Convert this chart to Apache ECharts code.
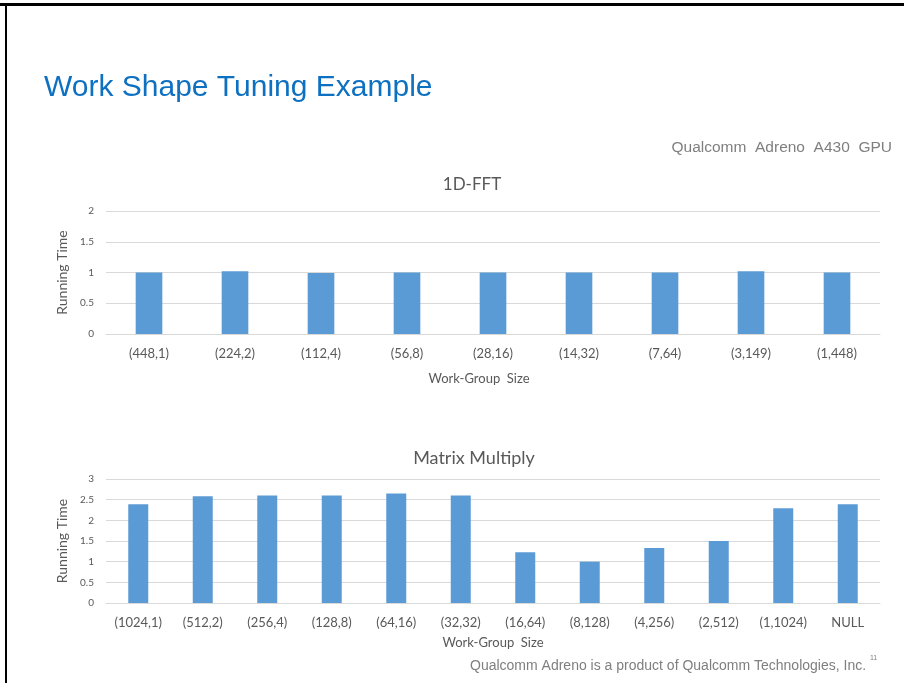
<!DOCTYPE html>
<html>
<head>
<meta charset="utf-8">
<script src="https://cdn.jsdelivr.net/npm/echarts@6/dist/echarts.min.js"></script>
<style>
html,body{margin:0;padding:0;background:#fff;}
#main{width:904px;height:683px;}
</style>
</head>
<body>
<div id="main"></div>
<script>
// data
var fftCategories = ["(448,1)","(224,2)","(112,4)","(56,8)","(28,16)","(14,32)","(7,64)","(3,149)","(1,448)"];
var fftValues = [1.0, 1.02, 0.99, 1.0, 1.0, 1.0, 1.0, 1.02, 1.0];

var mmCategories = ["(1024,1)","(512,2)","(256,4)","(128,8)","(64,16)","(32,32)","(16,64)","(8,128)","(4,256)","(2,512)","(1,1024)","NULL"];
var mmValues = [2.39, 2.58, 2.6, 2.6, 2.65, 2.6, 1.23, 1.0, 1.33, 1.5, 2.29, 2.39];

var barColor = "#5b9bd5";
var textGray = "#595959";
var gridGray = "#d9d9d9";
var chartFont = "Lato";
var slideFont = "Liberation Sans";

function makeXAxis(idx, cats, gap, namePad) {
    return {
        type: "category",
        gridIndex: idx,
        data: cats,
        axisTick: {show: false},
        axisLine: {lineStyle: {color: gridGray}},
        axisLabel: {color: textGray, fontSize: 13, fontFamily: chartFont, margin: 13, interval: 0},
        name: "Work-Group  Size",
        nameLocation: "middle",
        nameGap: gap,
        nameTextStyle: {color: textGray, fontSize: 13, fontFamily: chartFont, padding: namePad}
    };
}
function makeYAxis(idx, max) {
    return {
        type: "value",
        gridIndex: idx,
        min: 0,
        max: max,
        interval: 0.5,
        axisLine: {show: false},
        axisTick: {show: false},
        splitLine: {lineStyle: {color: gridGray}},
        axisLabel: {color: textGray, fontSize: 10, fontFamily: chartFont, margin: 12},
        name: "Running Time",
        nameLocation: "middle",
        nameGap: 29,
        nameTextStyle: {color: textGray, fontSize: 14, fontFamily: chartFont}
    };
}

var myChart = echarts.init(document.getElementById("main"));
var option = {
    animation: false,
    backgroundColor: "#fff",
    title: [
        {text: "1D-FFT", left: 467, top: 171, textAlign: "center",
         textStyle: {color: textGray, fontSize: 17, fontWeight: "normal", fontFamily: chartFont}},
        {text: "Matrix Multiply", left: 469, top: 444, textAlign: "center",
         textStyle: {color: textGray, fontSize: 18, fontWeight: "normal", fontFamily: chartFont}}
    ],
    grid: [
        {left: 106, right: 24, top: 211, height: 123},
        {left: 106, right: 24, top: 479, height: 124}
    ],
    xAxis: [makeXAxis(0, fftCategories, 38, [0, 28, 0, 0]), makeXAxis(1, mmCategories, 33, 0)],
    yAxis: [makeYAxis(0, 2), makeYAxis(1, 3)],
    series: [
        {type: "bar", xAxisIndex: 0, yAxisIndex: 0, data: fftValues, barWidth: "31%",
         itemStyle: {color: barColor}},
        {type: "bar", xAxisIndex: 1, yAxisIndex: 1, data: mmValues, barWidth: "31%",
         itemStyle: {color: barColor}}
    ],
    graphic: [
        // slide frame
        {type: "rect", shape: {x: 0, y: 3, width: 904, height: 3}, style: {fill: "#000"}},
        {type: "rect", shape: {x: 5, y: 3, width: 2, height: 680}, style: {fill: "#000"}},
        {type: "text", left: 44, top: 73,
         style: {text: "Work Shape Tuning Example", fill: "#0e70c0", fontSize: 30, fontFamily: slideFont}},
        {type: "text", right: 12, top: 140,
         style: {text: "Qualcomm  Adreno  A430  GPU", fill: "#7f7f7f", fontSize: 15.5, fontFamily: slideFont}},
        {type: "text", left: 470, top: 659,
         style: {text: "Qualcomm Adreno is a product of Qualcomm Technologies, Inc.", fill: "#7f7f7f", fontSize: 14, fontFamily: slideFont}},
        {type: "text", left: 870, top: 655,
         style: {text: "11", fill: "#7f7f7f", fontSize: 7, fontFamily: slideFont}}
    ]
};
myChart.setOption(option);
</script>
</body>
</html>
